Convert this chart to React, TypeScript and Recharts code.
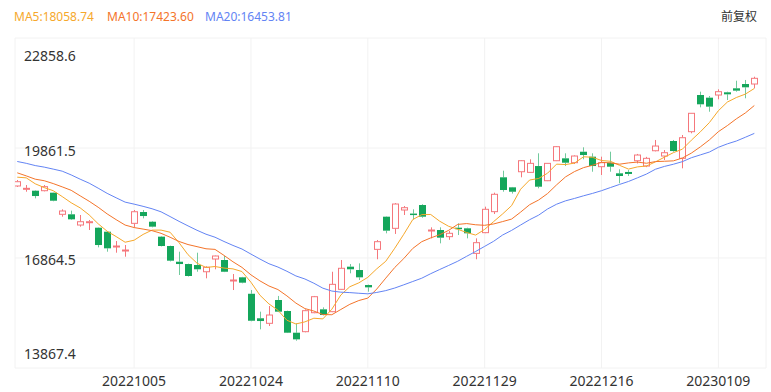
import React from 'react';
import { ComposedChart, Bar, Line, XAxis, YAxis, CartesianGrid } from 'recharts';

// trading days shown in the window
const dates = [
  '20220915', '20220916', '20220919', '20220920', '20220921', '20220922', '20220923', '20220926', '20220927', '20220928',
  '20220929', '20220930', '20221003', '20221005', '20221006', '20221007', '20221010', '20221011', '20221012', '20221013',
  '20221014', '20221017', '20221018', '20221019', '20221020', '20221021', '20221024', '20221025', '20221026', '20221027',
  '20221028', '20221031', '20221101', '20221102', '20221103', '20221104', '20221107', '20221108', '20221109', '20221110',
  '20221111', '20221114', '20221115', '20221116', '20221117', '20221118', '20221121', '20221122', '20221123', '20221124',
  '20221125', '20221128', '20221129', '20221130', '20221201', '20221202', '20221205', '20221206', '20221207', '20221208',
  '20221209', '20221212', '20221213', '20221214', '20221215', '20221216', '20221219', '20221220', '20221221', '20221222',
  '20221223', '20221228', '20221229', '20221230', '20230103', '20230104', '20230105', '20230106', '20230109', '20230110',
  '20230111', '20230112', '20230113',
];

const opens = [
  18827, 18745, 18698, 18698, 18644, 18055, 18055, 17763, 17840, 17690,
  17581, 17175, 17065, 17809, 18117, 17853, 17446, 17191, 16763, 16700,
  16673, 16490, 16837, 16810, 16250, 16338, 15890, 15222, 15085, 15720,
  15420, 14829, 14857, 15374, 15466, 15402, 16011, 16628, 16537, 16128,
  17100, 17990, 17673, 18172, 18075, 18308, 17615, 17627, 17446, 17690,
  17673, 16991, 17555, 18127, 19063, 18790, 19215, 19198, 19370, 18970,
  19515, 19580, 19461, 19760, 19625, 19352, 19461, 19172, 19209, 19515,
  19370, 19787, 19643, 20052, 19580, 20306, 21305, 21233, 21305, 21379,
  21488, 21605, 21605,
];

const highs = [
  18990, 18853, 18710, 18853, 18650, 18191, 18154, 18036, 17900, 17700,
  17600, 17327, 17218, 18172, 18172, 17870, 17460, 17200, 17036, 16710,
  17009, 16640, 16930, 16919, 16428, 16350, 15992, 15402, 15556, 15830,
  15430, 15085, 15466, 15830, 15520, 16490, 16810, 16700, 16719, 16140,
  17355, 18000, 18360, 18281, 18191, 18330, 17700, 17700, 17600, 17809,
  17690, 17400, 18263, 18644, 19243, 18800, 19530, 19554, 19717, 19450,
  19915, 19717, 19660, 19880, 19717, 19625, 19761, 19281, 19260, 19700,
  19620, 20080, 19806, 20080, 20216, 20815, 21396, 21278, 21461, 21396,
  21695, 21715, 21804,
];

const lows = [
  18800, 18670, 18490, 18680, 18410, 17990, 17900, 17718, 17627, 17155,
  17036, 17009, 16900, 17700, 17945, 17700, 17180, 16770, 16401, 16360,
  16490, 16311, 16557, 16480, 15992, 16175, 15140, 14921, 15011, 15390,
  14820, 14611, 14840, 15360, 15300, 15390, 16000, 16447, 16265, 15946,
  16830, 17537, 17520, 18036, 17918, 17960, 17400, 17264, 17360, 17490,
  17400, 16830, 17540, 18063, 18670, 18620, 19063, 19190, 18763, 18960,
  19505, 19370, 19425, 19554, 19215, 19126, 19215, 18900, 19100, 19440,
  19340, 19770, 19534, 19760, 19308, 20262, 20970, 20850, 21188, 21169,
  21396, 21216, 21488,
];

const closes = [
  18943, 18763, 18553, 18808, 18425, 18145, 17918, 17853, 17853, 17218,
  17128, 17191, 17082, 18125, 18008, 17718, 17191, 16791, 16700, 16374,
  16557, 16611, 16919, 16490, 16265, 16192, 15155, 15147, 15311, 15402,
  14829, 14648, 15429, 15810, 15311, 16147, 16584, 16557, 16338, 16065,
  17309, 17609, 18335, 18235, 18063, 17990, 17627, 17418, 17537, 17673,
  17537, 17282, 18191, 18600, 18717, 18670, 19515, 19443, 18807, 19443,
  19897, 19461, 19643, 19670, 19370, 19461, 19352, 19099, 19154, 19670,
  19580, 19915, 19733, 19779, 20142, 20807, 21052, 20988, 21396, 21324,
  21424, 21515, 21760,
];

// closes before the window, needed for the first averages
const priorCloses = [
  19763, 19773, 19657, 19503, 19268, 19968, 20170, 20023, 19949, 19954,
  19597, 19452, 19225, 19202, 19044, 18854, 19362, 19326, 18847,
];

const yTicks = [13867.4, 16864.5, 19861.5, 22858.6];
const xTickIdx = [13, 26, 39, 52, 65, 78];
const X_MIN = -0.25;
const X_MAX = 83.3;

const UP = '#f5777c';
const DOWN = '#14a65b';
const MA5_COLOR = '#f6a82b';
const MA10_COLOR = '#f4742a';
const MA20_COLOR = '#6384f4';
const FONT = '"Noto Sans", "Noto Sans CJK SC", sans-serif';

const allCloses = [...priorCloses, ...closes];
const ma = (n: number, i: number) => {
  const end = priorCloses.length + i;
  let s = 0;
  for (let j = end - n + 1; j <= end; j++) s += allCloses[j];
  return s / n;
};

const data = dates.map((d, i) => ({
  idx: i,
  date: d,
  open: opens[i],
  high: highs[i],
  low: lows[i],
  close: closes[i],
  range: [lows[i], highs[i]],
  ma5: ma(5, i),
  ma10: ma(10, i),
  ma20: ma(20, i),
}));

const Candle = (props: any) => {
  const { x, y, width, height, payload } = props;
  if (!payload) return null;
  const { open, close, high, low } = payload;
  const h = Math.abs(height);
  const top = Math.min(y, y + height);
  const ppu = h / (high - low || 1);
  const cx = Math.round(x + width / 2) + 0.5;
  const up = close >= open;
  const bTop = top + (high - Math.max(open, close)) * ppu;
  const bBot = top + (high - Math.min(open, close)) * ppu;
  const color = up ? UP : DOWN;
  return (
    <g>
      <line x1={cx} x2={cx} y1={top} y2={bTop} stroke={color} strokeOpacity={up ? 1 : 0.6} />
      <line x1={cx} x2={cx} y1={bBot} y2={top + h} stroke={color} strokeOpacity={up ? 1 : 0.6} />
      {up ? (
        <rect x={cx - 3} y={bTop} width={6} height={Math.max(bBot - bTop, 1)} fill="#fff" stroke={UP} />
      ) : (
        <rect x={cx - 3.5} y={bTop} width={7} height={Math.max(bBot - bTop, 1.5)} fill={DOWN} />
      )}
    </g>
  );
};

const YTick = (props: any) => {
  const { y, payload } = props;
  const v = payload.value;
  let dy = 2;
  if (v === yTicks[3]) dy = 17;
  if (v === yTicks[0]) dy = -15;
  return (
    <text x={24} y={y + dy} dominantBaseline="central" fontSize={14} fill="#333" fontFamily={FONT}>
      {v.toFixed(1)}
    </text>
  );
};

const XTick = (props: any) => {
  const { x, payload } = props;
  const v = payload.value;
  if (!Number.isInteger(v)) return null;
  return (
    <text x={x} y={380} textAnchor="middle" dominantBaseline="central" fontSize={14} fill="#333" fontFamily={FONT}>
      {dates[v]}
    </text>
  );
};

const legendStyle = (left: number, color: string): React.CSSProperties => ({
  position: 'absolute',
  left,
  top: 9,
  fontSize: 12,
  lineHeight: '16px',
  color,
  fontFamily: FONT,
});

export default function App() {
  return (
    <div style={{ position: 'absolute', left: 0, top: 0, width: 771, height: 392, background: '#fff' }}>
      <div style={legendStyle(14, MA5_COLOR)}>MA5:18058.74</div>
      <div style={legendStyle(107, MA10_COLOR)}>MA10:17423.60</div>
      <div style={legendStyle(205, MA20_COLOR)}>MA20:16453.81</div>
      <div style={{ ...legendStyle(721, '#333'), fontSize: 12 }}>前复权</div>
      <ComposedChart width={771} height={392} data={data} margin={{ top: 38, right: 5, bottom: 0, left: 15 }}>
        <CartesianGrid stroke="#f2f2f2" />
        <XAxis
          type="number"
          dataKey="idx"
          domain={[X_MIN, X_MAX]}
          ticks={[X_MIN, ...xTickIdx, X_MAX]}
          interval={0}
          allowDataOverflow
          axisLine={false}
          tickLine={false}
          height={24}
          tick={<XTick />}
        />
        <YAxis
          type="number"
          domain={[yTicks[0], yTicks[3]]}
          ticks={yTicks}
          interval={0}
          allowDataOverflow
          mirror
          axisLine={false}
          tickLine={false}
          tick={<YTick />}
        />
        <Bar dataKey="range" shape={<Candle />} isAnimationActive={false} />
        <Line type="linear" dataKey="ma5" stroke={MA5_COLOR} strokeWidth={1} dot={false} isAnimationActive={false} />
        <Line type="linear" dataKey="ma10" stroke={MA10_COLOR} strokeWidth={1} dot={false} isAnimationActive={false} />
        <Line type="linear" dataKey="ma20" stroke={MA20_COLOR} strokeWidth={1} dot={false} isAnimationActive={false} />
      </ComposedChart>
    </div>
  );
}
